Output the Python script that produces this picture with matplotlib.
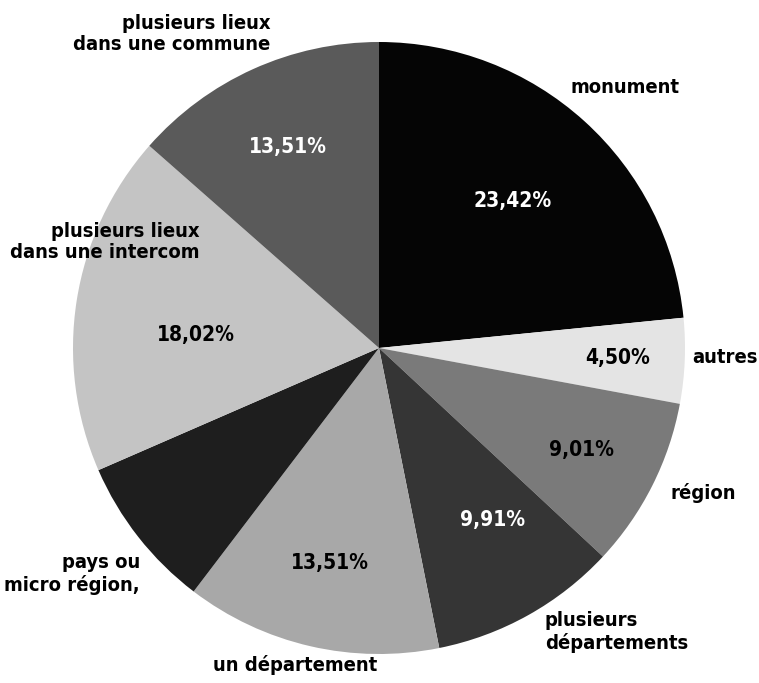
import matplotlib
matplotlib.use("Agg")
import matplotlib.pyplot as plt
import numpy as np

categories = ["monument", "autres", "région", "plusieurs\ndépartements",
              "un département", "pays ou\nmicro région,",
              "plusieurs lieux\ndans une intercom",
              "plusieurs lieux\ndans une commune"]
values = [23.42, 4.50, 9.01, 9.91, 13.51, 8.11, 18.02, 13.51]
pct_labels = ["23,42%", "4,50%", "9,01%", "9,91%", "13,51%", "", "18,02%", "13,51%"]

colors = ["#050505", "#e4e4e4", "#7a7a7a", "#353535", "#a8a8a8", "#1e1e1e", "#c4c4c4", "#5a5a5a"]
pct_colors = ["white", "black", "black", "white", "black", "black", "black", "white"]
# percentage label layout: (angle offset deg, radius factor)
pct_layout = [(0, 0.65), (0, 0.78), (0, 0.74), (4.2, 0.675), (0, 0.72), (0, 0.7),
              (4.9, 0.6), (0, 0.72)]
# outer label layout: (angle offset deg, radius factor, ha)
label_layout = [(-1.2, 1.17, "center"), (0.9, 1.13, "center"), (2.7, 1.16, "center"),
                (1.05, 1.075, "left"), (-1.8, 1.07, "center"), (5.3, 1.075, "right"),
                (-21.6, 0.68, "right"), (-5.2, 1.085, "right")]

plt.rcParams['font.family'] = ['DejaVu Sans']

fig = plt.figure(figsize=(7.59, 6.83), dpi=100)
ax = fig.add_axes([0, 0, 1, 1])
cx, cy = 379, 348
R = 306

wedges, _ = ax.pie(values, colors=colors, startangle=90, counterclock=False,
                   radius=R, center=(0, 0), frame=True)
ax.set_xlim(-cx, 759 - cx)
ax.set_ylim(-(683 - cy), cy)
ax.set_aspect('equal')
ax.axis('off')

for w, pl, pc, (poff, pdist), lab, (doff, rf, ha) in zip(wedges, pct_labels, pct_colors,
                                                          pct_layout, categories, label_layout):
    mid = np.deg2rad((w.theta1 + w.theta2) / 2)
    if pl:
        pa = mid + np.deg2rad(poff)
        ax.text(R * pdist * np.cos(pa), R * pdist * np.sin(pa), pl, color=pc,
                ha='center', va='center', fontsize=15, fontweight='bold',
                fontstretch='condensed')
    a = mid + np.deg2rad(doff)
    ax.text(R * rf * np.cos(a), R * rf * np.sin(a), lab, color='black',
            ha=ha, va='center', fontsize=14.5, fontweight='bold', linespacing=1.15,
            fontstretch='condensed', multialignment=ha)

fig.savefig("out.png", dpi=100, facecolor='white')
